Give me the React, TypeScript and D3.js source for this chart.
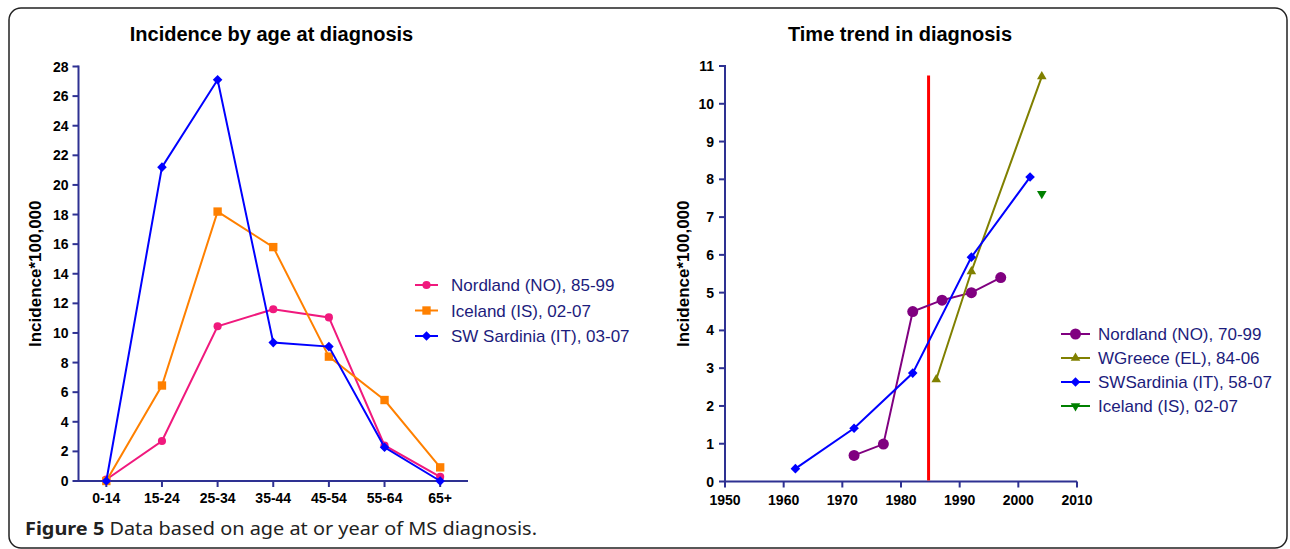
import React from "react";
import * as d3 from "d3";

// left panel: incidence by age at diagnosis
const ageGroups = ["0-14", "15-24", "25-34", "35-44", "45-54", "55-64", "65+"];
const nordlandAge = [0.1, 2.7, 10.45, 11.6, 11.05, 2.4, 0.28];
const icelandAge = [0, 6.45, 18.2, 15.8, 8.4, 5.47, 0.92];
const sardiniaAge = [0, 21.2, 27.1, 9.35, 9.08, 2.28, 0];
const ageTicks = [0, 2, 4, 6, 8, 10, 12, 14, 16, 18, 20, 22, 24, 26, 28];

// right panel: time trend in diagnosis
const nordlandYears = [1972, 1977, 1982, 1987, 1992, 1997];
const nordlandTrend = [0.69, 0.99, 4.5, 4.8, 5.0, 5.4];
const greeceYears = [1986, 1992, 2004];
const greeceTrend = [2.7, 5.56, 10.72];
const sardiniaYears = [1962, 1972, 1982, 1992, 2002];
const sardiniaTrend = [0.34, 1.41, 2.87, 5.94, 8.06];
const icelandYears = [2004];
const icelandTrend = [7.62];
const yearTicks = [1950, 1960, 1970, 1980, 1990, 2000, 2010];
const trendTicks = [0, 1, 2, 3, 4, 5, 6, 7, 8, 9, 10, 11];
const cutYear = 1984.7;
const cutTop = 10.75;

const AXIS = "#2e3192";
const LEGEND_TEXT = "#1c1c7c";
const tickFont = "'Liberation Sans', Arial, sans-serif";

const square = d3.symbol().type(d3.symbolSquare);
const circle = d3.symbol().type(d3.symbolCircle);
const tri = d3.symbol().type(d3.symbolTriangle);

const Marker = ({ kind, x, y, color }) => {
  if (kind === "circle")
    return <path d={circle.size(52)()} transform={`translate(${x},${y})`} fill={color} />;
  if (kind === "bigcircle")
    return <path d={circle.size(95)()} transform={`translate(${x},${y})`} fill={color} />;
  if (kind === "square")
    return <path d={square.size(70)()} transform={`translate(${x},${y})`} fill={color} />;
  if (kind === "diamond")
    return <path d={square.size(46)()} transform={`translate(${x},${y}) rotate(45)`} fill={color} />;
  if (kind === "up")
    return <path d={tri.size(40)()} transform={`translate(${x},${y})`} fill={color} />;
  return <path d={tri.size(40)()} transform={`translate(${x},${y}) rotate(180)`} fill={color} />;
};

const App = () => {
  // left scales
  const lx = d3.scalePoint().domain(ageGroups).range([78.5, 468]).padding(0.5);
  const ly = d3.scaleLinear().domain([0, 28]).range([481, 66.5]);
  // right scales
  const rx = d3.scaleLinear().domain([1950, 2010]).range([725, 1077]);
  const ry = d3.scaleLinear().domain([0, 11]).range([481.5, 66]);

  const ageSeries = [
    { name: "Nordland (NO), 85-99", values: nordlandAge, color: "#f0197d", kind: "circle" },
    { name: "Iceland (IS), 02-07", values: icelandAge, color: "#ff8000", kind: "square" },
    { name: "SW Sardinia (IT), 03-07", values: sardiniaAge, color: "#0000ff", kind: "diamond" },
  ];
  const trendSeries = [
    { name: "Nordland (NO), 70-99", xs: nordlandYears, ys: nordlandTrend, color: "#800080", kind: "bigcircle" },
    { name: "WGreece (EL), 84-06", xs: greeceYears, ys: greeceTrend, color: "#808000", kind: "up" },
    { name: "SWSardinia (IT), 58-07", xs: sardiniaYears, ys: sardiniaTrend, color: "#0000ff", kind: "diamond" },
    { name: "Iceland (IS), 02-07", xs: icelandYears, ys: icelandTrend, color: "#008000", kind: "down" },
  ];

  const ageLine = d3
    .line<number>()
    .x((d, i) => lx(ageGroups[i]))
    .y((d) => ly(d));

  return (
    <svg width={1290} height={549} style={{ position: "absolute", left: 0, top: 0, background: "#fff" }}>
      <rect x={9} y={8} width={1278} height={540} rx={12} fill="#fff" stroke="#222" strokeWidth={1.5} />

      {/* left panel */}
      <text x={271.5} y={40.5} textAnchor="middle" fontFamily={tickFont} fontWeight="bold" fontSize={20}>
        Incidence by age at diagnosis
      </text>
      <text
        transform={`translate(41,${(ly(0) + ly(28)) / 2}) rotate(-90)`}
        textAnchor="middle"
        fontFamily={tickFont}
        fontWeight="bold"
        fontSize={17}
      >
        Incidence*100,000
      </text>
      <g>
        {ageTicks.map((t) => (
          <g key={t}>
            <line x1={72.5} x2={78.5} y1={ly(t)} y2={ly(t)} stroke={AXIS} strokeWidth={2} />
            <text x={68.5} y={ly(t) + 5} textAnchor="end" fontFamily={tickFont} fontWeight="bold" fontSize={14}>
              {t}
            </text>
          </g>
        ))}
        {ageGroups.map((g) => (
          <g key={g}>
            <line x1={lx(g)} x2={lx(g)} y1={481} y2={487} stroke={AXIS} strokeWidth={2} />
            <text x={lx(g)} y={503} textAnchor="middle" fontFamily={tickFont} fontWeight="bold" fontSize={14}>
              {g}
            </text>
          </g>
        ))}
        <line x1={78.5} x2={78.5} y1={65.5} y2={482} stroke={AXIS} strokeWidth={2} />
        <line x1={77.5} x2={468} y1={481} y2={481} stroke={AXIS} strokeWidth={2} />
      </g>
      {ageSeries.map((s) => (
        <g key={s.name}>
          <path d={ageLine(s.values)} fill="none" stroke={s.color} strokeWidth={2} />
          {s.values.map((v, i) => (
            <Marker key={i} kind={s.kind} x={lx(ageGroups[i])} y={ly(v)} color={s.color} />
          ))}
        </g>
      ))}
      {ageSeries.map((s, i) => {
        const y = 285 + i * 25.5;
        return (
          <g key={s.name}>
            <line x1={415} x2={438} y1={y} y2={y} stroke={s.color} strokeWidth={2} />
            <Marker kind={s.kind} x={426.5} y={y} color={s.color} />
            <text x={451} y={y + 6} fontFamily={tickFont} fontSize={17} fill={LEGEND_TEXT}>
              {s.name}
            </text>
          </g>
        );
      })}

      {/* right panel */}
      <text x={900} y={40.5} textAnchor="middle" fontFamily={tickFont} fontWeight="bold" fontSize={20}>
        Time trend in diagnosis
      </text>
      <text
        transform={`translate(689,${(ry(0) + ry(11)) / 2}) rotate(-90)`}
        textAnchor="middle"
        fontFamily={tickFont}
        fontWeight="bold"
        fontSize={17}
      >
        Incidence*100,000
      </text>
      <g>
        {trendTicks.map((t) => (
          <g key={t}>
            <line x1={719} x2={725} y1={ry(t)} y2={ry(t)} stroke={AXIS} strokeWidth={2} />
            <text x={714} y={ry(t) + 5} textAnchor="end" fontFamily={tickFont} fontWeight="bold" fontSize={14}>
              {t}
            </text>
          </g>
        ))}
        {yearTicks.map((t) => (
          <g key={t}>
            <line x1={rx(t)} x2={rx(t)} y1={481.5} y2={487.5} stroke={AXIS} strokeWidth={2} />
            <text x={rx(t)} y={505} textAnchor="middle" fontFamily={tickFont} fontWeight="bold" fontSize={14}>
              {t}
            </text>
          </g>
        ))}
        <line x1={725} x2={725} y1={65} y2={482.5} stroke={AXIS} strokeWidth={2} />
        <line x1={724} x2={1077} y1={481.5} y2={481.5} stroke={AXIS} strokeWidth={2} />
      </g>
      <line x1={rx(cutYear)} x2={rx(cutYear)} y1={ry(cutTop)} y2={ry(0) - 1} stroke="#ff0000" strokeWidth={3} />
      {trendSeries.map((s) => {
        const line = d3
          .line<number>()
          .x((d, i) => rx(s.xs[i]))
          .y((d) => ry(d));
        return (
          <g key={s.name}>
            {s.ys.length > 1 && <path d={line(s.ys)} fill="none" stroke={s.color} strokeWidth={2} />}
            {s.ys.map((v, i) => (
              <Marker key={i} kind={s.kind} x={rx(s.xs[i])} y={ry(v)} color={s.color} />
            ))}
          </g>
        );
      })}
      {trendSeries.map((s, i) => {
        const y = 334 + i * 24;
        return (
          <g key={s.name}>
            <line x1={1061} x2={1090} y1={y} y2={y} stroke={s.color} strokeWidth={2} />
            <Marker kind={s.kind} x={1075.5} y={y} color={s.color} />
            <text x={1098} y={y + 6} fontFamily={tickFont} fontSize={17} fill={LEGEND_TEXT}>
              {s.name}
            </text>
          </g>
        );
      })}

      {/* caption */}
      <text x={25} y={535} fontFamily="'Noto Sans', 'Open Sans', sans-serif" fontSize={18} fill="#222" textLength={512} lengthAdjust="spacingAndGlyphs">
        <tspan fontWeight="bold">Figure 5</tspan> Data based on age at or year of MS diagnosis.
      </text>
    </svg>
  );
};

export default App;
